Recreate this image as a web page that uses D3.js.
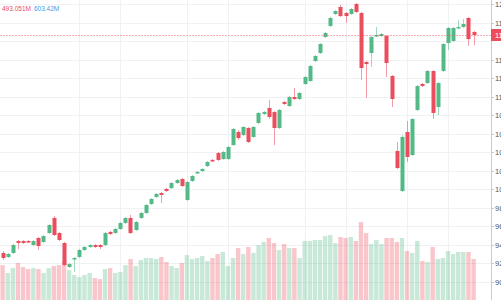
<!DOCTYPE html>
<html>
<head>
<meta charset="utf-8">
<script src="https://cdn.jsdelivr.net/npm/d3@7"></script>
<style>
  body { margin: 0; background: #fff; }
  svg { display: block; font-family: "Liberation Sans", Arial, sans-serif; }
</style>
</head>
<body>
<div id="root"></div>
<script>

// candles (oldest first)
const opens = [93.13,92.70,93.13,94.42,94.42,94.42,93.99,94.75,94.32,95.29,
	96.91,95.29,94.21,91.62,92.48,92.70,93.45,93.78,93.99,93.99,
	93.99,95.40,95.29,95.72,96.37,96.91,95.61,96.91,97.45,98.42,
	99.17,99.60,100.04,100.14,100.68,101.11,98.85,100.90,101.76,101.98,
	102.52,103.17,103.92,103.27,103.27,104.78,106.19,105.86,106.62,105.65,
	107.16,108.13,108.78,108.34,106.62,109.42,108.99,109.96,109.75,111.37,
	111.69,113.85,114.71,116.44,117.63,118.92,119.68,119.03,118.92,120.00,
	119.03,113.74,114.71,116.55,116.55,116.55,112.23,104.14,99.82,106.19,
	103.70,108.56,111.37,111.47,112.77,108.88,112.77,115.79,116.01,117.41,
	117.52,118.49,116.98];
const highs = [93.35,93.13,94.10,94.53,94.53,94.53,94.53,94.86,95.07,96.26,
	97.12,95.40,94.32,92.05,92.70,93.56,93.88,94.10,94.10,94.10,
	95.40,95.50,95.83,96.47,97.01,97.23,96.58,97.55,98.42,99.07,
	99.60,99.71,100.14,100.79,101.11,101.22,100.90,101.55,101.98,102.30,
	103.06,103.27,104.03,104.14,104.68,106.62,106.40,106.83,106.73,106.83,
	108.34,108.45,109.64,108.45,108.67,109.53,110.07,110.93,110.50,112.23,
	113.42,114.50,115.79,116.98,118.60,119.35,119.89,119.14,119.57,120.11,
	119.14,113.85,116.55,117.52,116.87,116.65,112.34,105.11,105.86,107.37,
	107.70,111.26,111.47,112.88,112.88,111.58,115.79,117.52,117.52,118.27,
	118.38,118.60,117.09];
const lows = [92.37,92.59,93.02,93.56,94.10,94.21,93.88,93.45,94.21,95.18,
	94.96,94.42,91.73,91.51,91.08,92.59,93.35,93.67,93.67,93.56,
	93.88,95.07,95.18,95.61,96.26,95.18,95.50,96.80,97.34,98.31,
	99.07,98.53,99.71,100.04,100.58,100.25,98.74,100.79,101.65,101.87,
	102.41,102.95,103.06,103.17,103.17,104.68,105.32,105.75,105.00,105.54,
	107.05,108.02,107.59,104.78,106.51,109.10,108.88,109.64,109.64,111.26,
	111.58,113.74,114.60,116.33,117.52,118.81,118.60,117.95,118.81,119.03,
	111.80,109.86,113.20,116.44,116.44,112.12,108.88,102.19,99.71,102.95,
	103.60,108.45,111.04,111.37,107.59,108.02,112.66,115.04,115.90,117.30,
	117.41,115.47,115.57];
const closes = [92.59,93.02,93.99,94.21,94.21,94.32,94.42,93.88,94.96,96.15,
	95.07,94.53,91.83,91.94,92.59,93.45,93.78,93.99,93.78,93.78,
	95.29,95.18,95.72,96.37,96.91,95.29,96.47,97.45,98.31,98.96,
	99.50,99.39,99.82,100.68,101.01,100.36,100.79,101.44,101.87,102.19,
	102.95,103.06,103.17,104.03,104.57,106.51,105.54,106.73,105.11,106.73,
	108.24,108.34,107.81,106.62,108.56,109.21,109.96,109.75,110.40,112.12,
	113.31,114.39,115.68,116.87,118.49,119.24,118.70,118.70,119.46,119.14,
	113.09,113.52,116.44,116.65,116.76,113.63,109.75,102.30,105.65,103.49,
	107.59,111.15,111.15,112.77,108.24,111.47,115.68,117.41,117.41,117.52,
	117.84,116.22,116.65];
// volume in millions
const volumes = [456,408,438,469,444,432,438,432,408,438,
	450,456,481,426,396,383,396,408,377,371,
	432,438,408,414,456,493,450,487,499,499,
	493,505,475,450,438,469,517,493,499,511,
	481,499,523,536,450,499,560,523,566,530,
	578,597,621,590,548,584,560,560,499,603,
	603,609,609,633,639,590,627,621,627,603,
	718,651,584,609,584,621,621,597,621,542,
	530,603,481,475,566,493,499,542,523,536,
	536,536,493.051];

const priceTicks = [90,92,94,96,98,100,102,104,106,108,110,112,114,116,118,120];
const gridBars = [15,23,36,44,59,67,79,87];   // bars that carry a vertical grid line
const legendTexts = ["493.051M", "603.42M"];

const upColor = "#53b987", downColor = "#eb4d5c";
const upVol = "rgba(83,185,135,0.32)", downVol = "rgba(235,77,92,0.32)";

function draw() {
	const width = 501, height = 300;
	const axisX = 491;

	const n = closes.length;
	const x = d3.scaleLinear().domain([0, n - 1]).range([2.5, 473.5]);
	const y = d3.scaleLinear().domain([90, 120]).range([282, 4]);
	const yVol = d3.scaleLinear().domain([0, 800]).range([340, 208.6]);

	const svg = d3.select("#root").append("svg")
		.attr("width", width)
		.attr("height", height);

	const bars = d3.range(n).map(i => ({
		i, o: opens[i], h: highs[i], l: lows[i], c: closes[i], v: volumes[i],
		up: closes[i] >= opens[i]
	}));

	// grid
	const grid = svg.append("g").attr("class", "grid");
	grid.selectAll(".hgrid")
		.data(priceTicks)
		.enter().append("line")
		.attr("x1", 0).attr("x2", axisX)
		.attr("y1", d => Math.round(y(d)) + 0.5)
		.attr("y2", d => Math.round(y(d)) + 0.5)
		.attr("stroke", "#eff1f4");
	grid.selectAll(".vgrid")
		.data(gridBars)
		.enter().append("line")
		.attr("x1", d => Math.round(x(d)) + 0.5)
		.attr("x2", d => Math.round(x(d)) + 0.5)
		.attr("y1", 0).attr("y2", height)
		.attr("stroke", "#eff1f4");

	// candles
	const candles = svg.append("g").attr("class", "candles");
	candles.selectAll(".wick")
		.data(bars)
		.enter().append("line")
		.attr("x1", d => Math.round(x(d.i)) + 0.5)
		.attr("x2", d => Math.round(x(d.i)) + 0.5)
		.attr("y1", d => y(d.h))
		.attr("y2", d => y(d.l))
		.attr("stroke", d => d.up ? upColor : downColor)
		.attr("stroke-opacity", 0.55);
	candles.selectAll(".body")
		.data(bars)
		.enter().append("rect")
		.attr("x", d => Math.round(x(d.i)) - 1.5)
		.attr("width", 4)
		.attr("y", d => Math.min(y(d.o), y(d.c)))
		.attr("height", d => Math.max(1.5, Math.abs(y(d.o) - y(d.c))))
		.attr("fill", d => d.up ? upColor : downColor);

	// volume histogram
	svg.append("g").attr("class", "volume")
		.selectAll("rect")
		.data(bars)
		.enter().append("rect")
		.attr("x", d => x(d.i) - 2.1)
		.attr("width", 4.4)
		.attr("y", d => yVol(d.v))
		.attr("height", d => yVol(0) - yVol(d.v))
		.attr("fill", d => d.up ? upVol : downVol);

	// last price line
	const last = bars[n - 1];
	const yLast = Math.round(y(last.c)) + 0.5;
	svg.append("line")
		.attr("x1", 0).attr("x2", axisX)
		.attr("y1", yLast).attr("y2", yLast)
		.attr("stroke", downColor)
		.attr("stroke-opacity", 0.45)
		.attr("stroke-dasharray", "2,1");

	// right price axis
	const axis = svg.append("g").attr("class", "axis");
	axis.append("rect")
		.attr("x", axisX).attr("y", 0)
		.attr("width", width - axisX).attr("height", height)
		.attr("fill", "#fff");
	axis.append("line")
		.attr("x1", axisX + 0.5).attr("x2", axisX + 0.5)
		.attr("y1", 0).attr("y2", height)
		.attr("stroke", "#c8cbd2");
	const ticks = axis.selectAll(".tick")
		.data(priceTicks.filter(t => Math.abs(y(t) - yLast) > 8))
		.enter().append("g")
		.attr("transform", d => "translate(0," + (Math.round(y(d)) + 0.5) + ")");
	ticks.append("line")
		.attr("x1", axisX).attr("x2", axisX + 3)
		.attr("stroke", "#c8cbd2");
	ticks.append("text")
		.attr("x", axisX + 4)
		.attr("dy", "0.35em")
		.attr("font-size", 7.5)
		.attr("fill", "#50535e")
		.text(d => d.toFixed(2));

	axis.append("rect")
		.attr("x", axisX).attr("y", yLast - 6.5)
		.attr("width", width - axisX).attr("height", 12)
		.attr("fill", downColor);
	axis.append("text")
		.attr("x", axisX + 4).attr("y", yLast)
		.attr("dy", "0.35em")
		.attr("font-size", 7.5)
		.attr("fill", "#fff")
		.text(last.c.toFixed(2));

	// legend
	const legend = svg.append("text")
		.attr("x", 2).attr("y", 10.5)
		.attr("font-size", 6.5);
	legend.append("tspan").attr("fill", downColor).text(legendTexts[0]);
	legend.append("tspan").attr("fill", "#3a9ee8").attr("dx", 3).text(legendTexts[1]);
}

whenDocumentLoaded(draw);

function whenDocumentLoaded(action) {
	if (document.readyState === "loading") {
		document.addEventListener("DOMContentLoaded", action);
	} else {
		action();
	}
}
</script>
</body>
</html>
